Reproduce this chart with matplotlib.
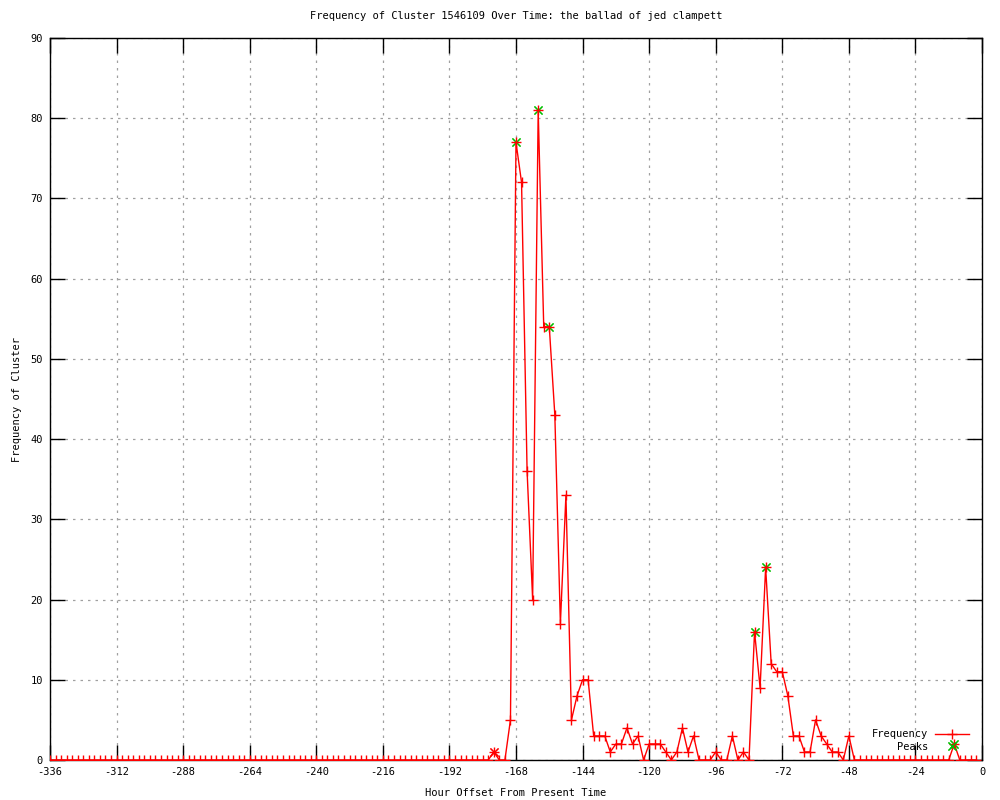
import matplotlib
matplotlib.use("Agg")
import matplotlib.pyplot as plt
from matplotlib.ticker import FuncFormatter

# hour offsets, one sample every 2 hours
hours = list(range(-336, 0, 2))

freq = [
    0, 0, 0, 0, 0, 0, 0, 0, 0, 0, 0, 0, 0, 0, 0, 0, 0, 0, 0, 0,
    0, 0, 0, 0, 0, 0, 0, 0, 0, 0, 0, 0, 0, 0, 0, 0, 0, 0, 0, 0,
    0, 0, 0, 0, 0, 0, 0, 0, 0, 0, 0, 0, 0, 0, 0, 0, 0, 0, 0, 0,
    0, 0, 0, 0, 0, 0, 0, 0, 0, 0, 0, 0, 0, 0, 0, 0, 0, 0, 0, 0,
    1, 0, 0, 5, 77, 72, 36, 20, 81, 54,
    54, 43, 17, 33, 5, 8, 10, 10, 3, 3,
    3, 1, 2, 2, 4, 2, 3, 0, 2, 2,
    2, 1, 0, 1, 4, 1, 3, 0, 0, 0,
    1, 0, 0, 3, 0, 1, 0, 16, 9, 24,
    12, 11, 11, 8, 3, 3, 1, 1, 5, 3,
    2, 1, 1, 0, 3, 0,
    0, 0, 0, 0, 0, 0, 0, 0, 0, 0, 0, 0, 0, 0, 0, 0, 0,
    2, 0, 0, 0, 0,
]

peak_hours = [-168, -160, -156, -82, -78, -10]
peak_vals = [77, 81, 54, 16, 24, 2]

# small red star drawn at -176 in the original
extra_hours = [-176]
extra_vals = [1]

xticks = list(range(-336, 1, 24))
yticks = list(range(0, 91, 10))

plt.rcParams['font.family'] = ['DejaVu Sans Mono']
plt.rcParams['font.size'] = 7.5

fig = plt.figure(figsize=(10, 8), dpi=100)
ax = fig.add_axes([0.05, 0.05, 0.932, 0.9025])

xmark = (4, 2, 45)

# gnuplot style "*" = "+" and "x" on top of each other
ax.plot(peak_hours, peak_vals, linestyle='none', marker=xmark,
        color='#00c000', markersize=8, markeredgewidth=0.8, zorder=3)
ax.plot(extra_hours, extra_vals, linestyle='none', marker=xmark,
        color='red', markersize=8, markeredgewidth=0.8, zorder=4)
ax.plot(hours, freq, color='red', linewidth=1, marker='+', markersize=7,
        markeredgewidth=1, label='Frequency', zorder=4)
peaks_handle, = ax.plot([], [], linestyle='none', marker=xmark, color='#00c000',
                        markersize=8, markeredgewidth=0.8, label='Peaks')

ax.set_xlim(-336, 0)
ax.set_ylim(0, 90)
ax.set_xticks(xticks)
ax.set_yticks(yticks)
ax.xaxis.set_major_formatter(FuncFormatter(lambda v, p: '%d' % v))
ax.yaxis.set_major_formatter(FuncFormatter(lambda v, p: '%d' % v))
ax.tick_params(direction='in', length=11, width=1, top=True, right=True,
               labelsize=7.5, pad=5)

ax.grid(True, color='#a0a0a0', linestyle=(0, (2, 4)), linewidth=0.9)
for s in ax.spines.values():
    s.set_linewidth(1)

ax.set_title('Frequency of Cluster 1546109 Over Time: the ballad of jed clampett',
             fontsize=7.5, pad=14)
ax.set_xlabel('Hour Offset From Present Time', fontsize=7.5, labelpad=8)
ax.set_ylabel('Frequency of Cluster', fontsize=7.5, labelpad=6)

handles, labels = ax.get_legend_handles_labels()
leg = ax.legend(handles, labels,
                loc='lower right', bbox_to_anchor=(0.994, 0.001),
                frameon=False, markerfirst=False,
                fontsize=7.5, handlelength=3.3, handletextpad=0.6,
                labelspacing=0.25, borderaxespad=0.3, numpoints=1)
for t in leg.get_texts():
    t.set_ha('right')

fig.savefig('out.png', dpi=100)
